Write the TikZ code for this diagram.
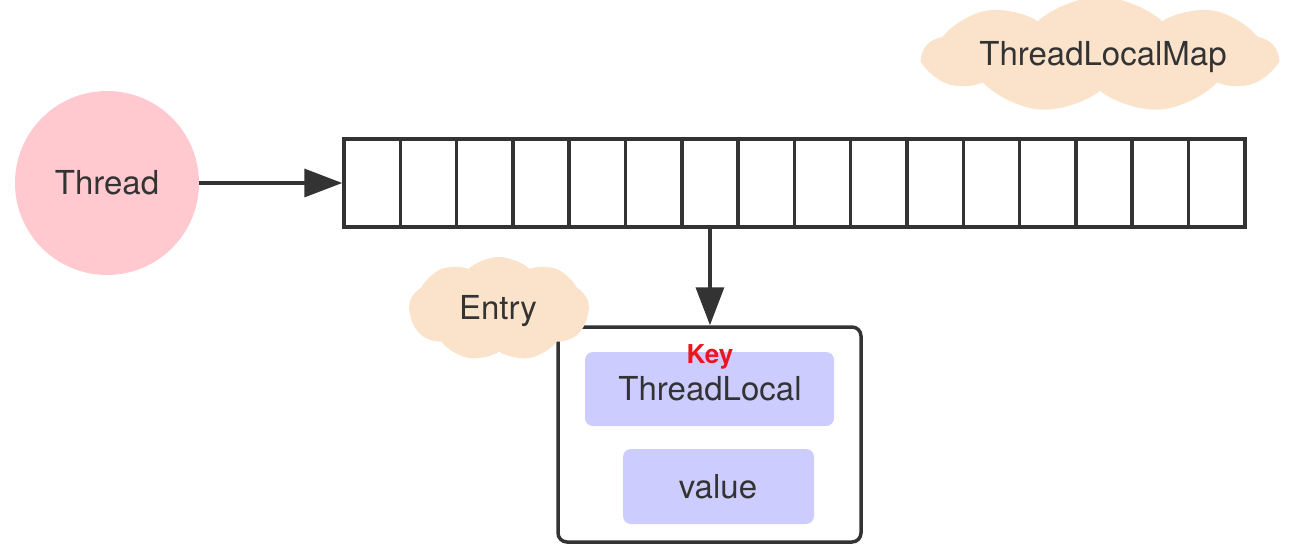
\documentclass[tikz,border=0pt]{standalone}
\usepackage{fontspec}
\setmainfont{TeX Gyre Heros}
\usetikzlibrary{arrows.meta,shapes.symbols}
\definecolor{ink}{HTML}{333333}
\definecolor{peach}{HTML}{FBE3CB}
\definecolor{pinkc}{HTML}{FFC9CF}
\definecolor{lav}{HTML}{CCCCFF}
\definecolor{keyred}{HTML}{F0141E}
\tikzset{
  lbl/.style={font=\fontsize{33}{38}\selectfont, text=ink},
  cell/.style={draw=ink, line width=3.5pt, minimum width=56.3pt, minimum height=88pt, inner sep=0pt},
  puff/.style={cloud, cloud puffs=9, cloud puff arc=85, fill=peach, draw=none, inner sep=0pt},
  field/.style={fill=lav, rounded corners=8pt, draw=none, inner sep=0pt},
  arr/.style={draw=ink, line width=3.5pt, -{Triangle[length=38pt,width=28pt]}},
}
\begin{document}
\begin{tikzpicture}[x=1pt,y=-1pt]
\useasboundingbox (0,0) rectangle (1312,557);
% Thread
\node[circle, fill=pinkc, minimum size=184pt, inner sep=0pt, lbl] (thread) at (107,183) {Thread};
% array
\foreach \i in {0,...,15} {
  \node[cell] (c\i) at ({344+28.15+56.3*\i},183) {};
}
\draw[arr] (thread.east) -- (c0.west);
% entry box
\node[draw=ink, line width=3.5pt, rounded corners=9pt, minimum width=303pt, minimum height=215pt, inner sep=0pt] (entry) at (709.5,434.5) {};
\node[field, minimum width=249pt, minimum height=74pt] (key) at (709.5,389) {};
\node[lbl, anchor=base] (kt) at (710,400) {ThreadLocal};
\node[font=\fontsize{26}{28}\selectfont\bfseries, text=keyred, anchor=base] (klabel) at (710,363) {Key};
\node[field, minimum width=191pt, minimum height=75pt] (val) at (718.5,486.5) {};
\node[lbl, anchor=base] (vt) at (718,498) {value};
\draw[arr] (c6.south) -- (entry.north -| c6.south);
% clouds
\node[puff, minimum width=180pt, minimum height=104pt] (ecloud) at (499,309) {};
\node[lbl] (etext) at (498,311) {Entry};
\node[puff, minimum width=352pt, minimum height=116pt] (mcloud) at (1100,55) {};
\node[lbl] (mtext) at (1103,57) {ThreadLocalMap};
\end{tikzpicture}
\end{document}
